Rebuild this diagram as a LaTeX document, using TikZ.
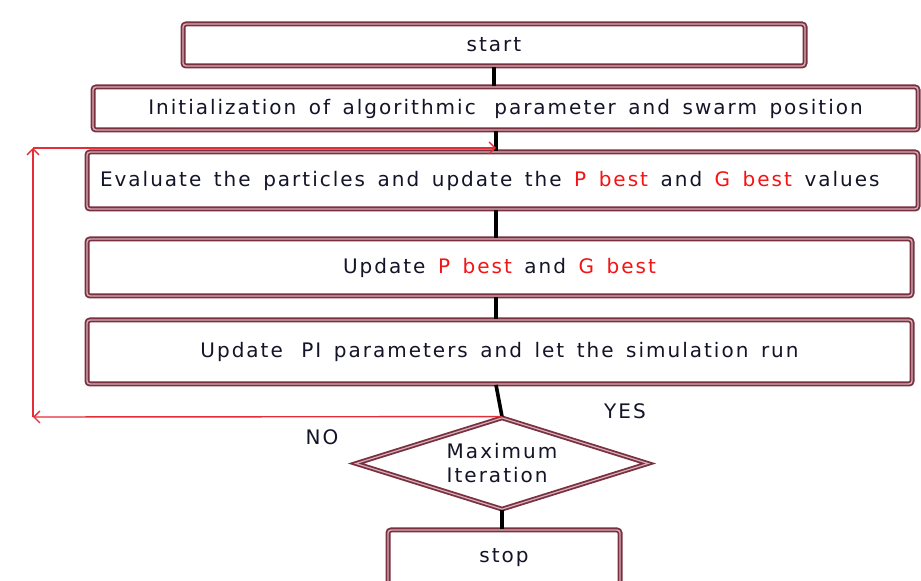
\documentclass[tikz,border=0pt]{standalone}
\usepackage{fontspec}
\setmainfont{DejaVu Sans}[LetterSpace=10, WordSpace=1.5]
\definecolor{boxedge}{RGB}{122,48,64}
\definecolor{boxmid}{RGB}{212,176,185}
\definecolor{inkdark}{RGB}{20,20,40}
\definecolor{loopred}{RGB}{228,45,55}
\definecolor{bestred}{RGB}{245,20,20}
\usetikzlibrary{shapes,arrows,arrows.meta,positioning,calc}
\newcommand{\bestval}[1]{\textcolor{bestred}{#1}}
\tikzset{
  flowbox/.style={draw=boxedge, double=boxmid, line width=0.9pt, double distance=0.7pt,
    rounded corners=1.5pt, fill=white, text=inkdark, inner sep=0pt, align=center},
  decide/.style={diamond, aspect=3.2, draw=boxedge, double=boxmid, line width=0.9pt,
    double distance=0.6pt, fill=white, text=inkdark, inner sep=0pt, align=left},
  link/.style={line width=1.8pt, black},
  backloop/.style={draw=loopred, line width=0.7pt, -{Straight Barb[length=3pt,width=6pt]}},
  answer/.style={text=inkdark}
}

\begin{document}
\begin{tikzpicture}[x=0.5pt, y=-0.5pt]
    \useasboundingbox (0,0) rectangle (921,581);

    % Steps
    \node[flowbox, minimum width=311pt, minimum height=21pt] (start) at (494,45) {start};
    \node[flowbox, minimum width=412.5pt, minimum height=21.5pt] (init) at (505.5,108.5)
        {Initialization of algorithmic\hspace{3pt} parameter and swarm position};
    \node[flowbox, inner xsep=6.5pt, minimum height=28.5pt] (eval) at (502.5,180.5)
        {\makebox[402.5pt][l]{Evaluate the particles and update the \bestval{P best} and \bestval{G best} values}};
    \node[flowbox, minimum width=412.5pt, minimum height=28.5pt] (upd) at (499.5,267.5)
        {Update \bestval{P best} and \bestval{G best}};
    \node[flowbox, minimum width=412.5pt, minimum height=32pt] (pipar) at (499.5,352)
        {Update\hspace{3pt} PI parameters and let the simulation run};
    \node[decide, minimum width=146.5pt, minimum height=46pt] (maxit) at (502,463.5) {Maximum\\Iteration};
    \node[flowbox, minimum width=116pt, minimum height=28pt] (stop) at (504,558) {stop};

    % Connectors
    \coordinate (col) at (496,0);
    \draw[link] (start.south) -- (start.south |- init.north);
    \draw[link] (col |- init.south) -- (col |- eval.north);
    \draw[link] (col |- eval.south) -- (col |- upd.north);
    \draw[link] (col |- upd.south) -- (col |- pipar.north);
    \draw[link] (col |- pipar.south) -- (maxit.north);
    \draw[link] (maxit.south) -- (maxit.south |- stop.north);

    % Loop back
    \coordinate (noturn) at (33,417);
    \coordinate (upturn) at (33,148);
    \draw[backloop] (maxit.north) -- (noturn);
    \draw[backloop] (noturn) -- (upturn);
    \draw[backloop] (upturn) -- (col |- upturn);

    % Labels
    \node[answer] (yes) at (625,411) {YES};
    \node[answer] (no) at (322,437) {NO};
\end{tikzpicture}
\end{document}
